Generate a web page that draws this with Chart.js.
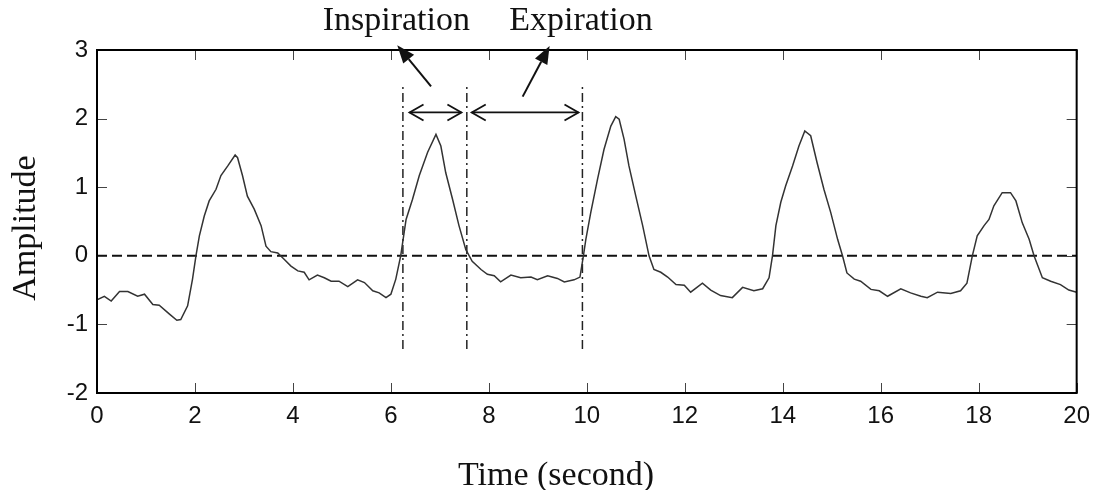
<!DOCTYPE html>
<html>
<head>
<meta charset="utf-8">
<script src="https://cdn.jsdelivr.net/npm/chart.js@4.4.0/dist/chart.umd.min.js"></script>
<style>
  html, body { margin: 0; padding: 0; background: #fff; }
  #wrap { width: 1099px; height: 490px; }
</style>
</head>
<body>
<div id="wrap"><canvas id="breathChart"></canvas></div>
<script>
// breathing signal
var timeSec = [0.00,0.15,0.29,0.46,0.63,0.83,0.97,1.14,1.27,1.48,1.63,1.71,1.85,1.95,2.02,2.09,2.19,2.29,2.43,2.53,
  2.67,2.82,2.87,2.97,3.07,3.21,3.35,3.45,3.55,3.69,3.82,3.96,4.10,4.23,4.33,4.50,4.64,4.78,4.94,5.12,
  5.32,5.46,5.63,5.76,5.90,6.00,6.10,6.20,6.31,6.44,6.58,6.75,6.92,7.02,7.12,7.26,7.39,7.53,7.66,7.84,
  7.97,8.11,8.24,8.45,8.65,8.86,8.99,9.20,9.40,9.54,9.74,9.86,9.93,9.98,10.08,10.22,10.35,10.49,10.59,10.66,
  10.76,10.86,11.00,11.14,11.27,11.37,11.51,11.65,11.82,11.99,12.12,12.36,12.53,12.73,12.97,13.18,13.41,13.59,13.72,13.79,
  13.86,13.96,14.06,14.20,14.33,14.45,14.57,14.70,14.84,14.98,15.12,15.22,15.31,15.46,15.59,15.80,15.97,16.14,16.41,16.61,
  16.82,16.95,17.16,17.43,17.63,17.76,17.87,17.97,18.11,18.21,18.31,18.48,18.65,18.76,18.89,19.03,19.13,19.30,19.47,19.67,
  19.84,20.00];
var amplitude = [-0.64,-0.59,-0.66,-0.52,-0.52,-0.59,-0.56,-0.71,-0.72,-0.85,-0.94,-0.93,-0.73,-0.34,0.00,0.29,0.58,0.80,0.97,1.17,
  1.31,1.47,1.43,1.17,0.87,0.68,0.44,0.14,0.06,0.04,-0.05,-0.15,-0.22,-0.24,-0.35,-0.28,-0.32,-0.37,-0.37,-0.45,
  -0.35,-0.39,-0.51,-0.54,-0.61,-0.56,-0.34,0.00,0.53,0.82,1.17,1.51,1.77,1.60,1.21,0.82,0.44,0.09,-0.08,-0.20,
  -0.27,-0.29,-0.38,-0.28,-0.32,-0.31,-0.35,-0.29,-0.33,-0.38,-0.35,-0.31,0.00,0.24,0.63,1.12,1.55,1.89,2.03,1.99,
  1.70,1.31,0.87,0.44,0.00,-0.20,-0.24,-0.31,-0.42,-0.43,-0.53,-0.40,-0.50,-0.58,-0.61,-0.46,-0.51,-0.48,-0.32,0.00,
  0.44,0.78,1.02,1.31,1.60,1.82,1.75,1.36,0.97,0.63,0.24,0.00,-0.25,-0.34,-0.37,-0.49,-0.51,-0.59,-0.48,-0.54,
  -0.59,-0.61,-0.53,-0.55,-0.51,-0.40,0.00,0.29,0.44,0.53,0.73,0.92,0.92,0.80,0.48,0.24,0.00,-0.32,-0.37,-0.42,
  -0.50,-0.53];

// markers: phase boundaries and the zero line
var phaseLines = [6.245, 7.55, 9.91];
var phaseLineRange = [-1.36, 2.50];
var zeroLevel = 0;

// annotation arrows (data coords)
var inspArrow = { from: 6.38, to: 7.44, level: 2.09 };
var expArrow = { from: 7.65, to: 9.83, level: 2.09 };
var inspPointer = { x0: 6.82, y0: 2.47, x1: 6.13, y1: 3.07 };
var expPointer = { x0: 8.69, y0: 2.32, x1: 9.24, y1: 3.06 };
var labelInsp = { text: 'Inspiration', x: 6.11 };
var labelExp = { text: 'Expiration', x: 9.88 };

var xTitle = 'Time (second)';
var yTitle = 'Amplitude';

var signal = [];
for (var i in timeSec) {
  signal.push({ x: timeSec[i], y: amplitude[i] });
}

var datasets = [
  {
    data: signal,
    borderColor: '#333',
    borderWidth: 1.5,
    pointRadius: 0,
    tension: 0
  },
  {
    data: [{ x: 0, y: zeroLevel }, { x: 20, y: zeroLevel }],
    borderColor: '#111',
    borderWidth: 2,
    borderDash: [10, 5],
    pointRadius: 0
  }
];
for (var j in phaseLines) {
  datasets.push({
    data: [{ x: phaseLines[j], y: phaseLineRange[0] }, { x: phaseLines[j], y: phaseLineRange[1] }],
    borderColor: '#222',
    borderWidth: 1.5,
    borderDash: [9, 4, 2, 4],
    pointRadius: 0
  });
}

function openHead(ctx, x, y, dir) {
  ctx.beginPath();
  ctx.moveTo(x - dir * 14, y - 8);
  ctx.lineTo(x, y);
  ctx.lineTo(x - dir * 14, y + 8);
  ctx.stroke();
}

function solidArrow(ctx, x0, y0, x1, y1) {
  var ang = Math.atan2(y1 - y0, x1 - x0);
  var len = 18, half = 7;
  var bx = x1 - len * Math.cos(ang), by = y1 - len * Math.sin(ang);
  ctx.beginPath();
  ctx.moveTo(x0, y0);
  ctx.lineTo(bx, by);
  ctx.stroke();
  ctx.beginPath();
  ctx.moveTo(x1, y1);
  ctx.lineTo(bx + half * Math.sin(ang), by - half * Math.cos(ang));
  ctx.lineTo(bx - half * Math.sin(ang), by + half * Math.cos(ang));
  ctx.closePath();
  ctx.fill();
}

var decorations = {
  id: 'decorations',
  afterDatasetsDraw: function(chart) {
    var ctx = chart.ctx;
    var xs = chart.scales.x, ys = chart.scales.y;
    var a = chart.chartArea;
    ctx.save();

    // inward ticks on all four sides
    ctx.strokeStyle = '#444';
    ctx.lineWidth = 1;
    xs.ticks.forEach(function(t) {
      var px = Math.round(xs.getPixelForValue(t.value)) + 0.5;
      ctx.beginPath();
      ctx.moveTo(px, a.bottom); ctx.lineTo(px, a.bottom - 10);
      ctx.moveTo(px, a.top); ctx.lineTo(px, a.top + 10);
      ctx.stroke();
    });
    ys.ticks.forEach(function(t) {
      var py = Math.round(ys.getPixelForValue(t.value)) + 0.5;
      ctx.beginPath();
      ctx.moveTo(a.left, py); ctx.lineTo(a.left + 10, py);
      ctx.moveTo(a.right, py); ctx.lineTo(a.right - 10, py);
      ctx.stroke();
    });

    // box
    ctx.strokeStyle = '#000';
    ctx.lineWidth = 2;
    ctx.strokeRect(a.left, a.top, a.right - a.left, a.bottom - a.top);

    // double arrows
    ctx.strokeStyle = '#111';
    ctx.fillStyle = '#111';
    ctx.lineWidth = 1.8;
    [inspArrow, expArrow].forEach(function(ar) {
      var x0 = xs.getPixelForValue(ar.from), x1 = xs.getPixelForValue(ar.to);
      var y = ys.getPixelForValue(ar.level);
      ctx.beginPath();
      ctx.moveTo(x0, y); ctx.lineTo(x1, y);
      ctx.stroke();
      openHead(ctx, x0, y, -1);
      openHead(ctx, x1, y, 1);
    });

    // pointers to the labels
    ctx.lineWidth = 2;
    [inspPointer, expPointer].forEach(function(p) {
      solidArrow(ctx, xs.getPixelForValue(p.x0), ys.getPixelForValue(p.y0),
        xs.getPixelForValue(p.x1), ys.getPixelForValue(p.y1));
    });

    // text
    ctx.fillStyle = '#111';
    ctx.font = '34px "Liberation Serif", "Times New Roman", serif';
    ctx.textAlign = 'center';
    ctx.textBaseline = 'alphabetic';
    ctx.fillText(labelInsp.text, xs.getPixelForValue(labelInsp.x), 30);
    ctx.fillText(labelExp.text, xs.getPixelForValue(labelExp.x), 30);
    ctx.fillText(xTitle, 556, 485);
    ctx.translate(35, 228);
    ctx.rotate(-Math.PI / 2);
    ctx.fillText(yTitle, 0, 0);
    ctx.restore();
  }
};

var ctx = document.getElementById('breathChart');
var breathChart = new Chart(ctx, {
  type: 'line',
  data: { datasets: datasets },
  options: {
    responsive: true,
    maintainAspectRatio: false,
    animation: false,
    events: [],
    layout: { padding: { left: 0, right: 21, top: 50, bottom: 0 } },
    plugins: { legend: { display: false }, tooltip: { enabled: false } },
    scales: {
      x: {
        type: 'linear',
        min: 0,
        max: 20,
        afterFit: function(s) { s.height = 97; },
        ticks: {
          stepSize: 2,
          color: '#111',
          padding: 9,
          font: { family: '"Liberation Sans", Arial, sans-serif', size: 24 }
        },
        grid: { drawOnChartArea: false, drawTicks: false },
        border: { display: false }
      },
      y: {
        min: -2,
        max: 3,
        afterFit: function(s) { s.width = 97; },
        ticks: {
          stepSize: 1,
          color: '#111',
          padding: 9,
          font: { family: '"Liberation Sans", Arial, sans-serif', size: 24 }
        },
        grid: { drawOnChartArea: false, drawTicks: false },
        border: { display: false }
      }
    }
  },
  plugins: [decorations]
});
</script>
</body>
</html>
